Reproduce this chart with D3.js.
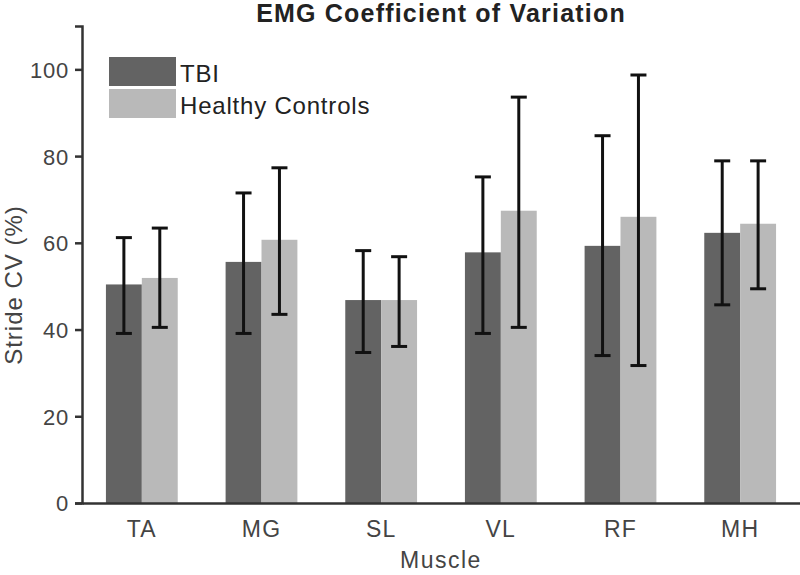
<!DOCTYPE html>
<html><head><meta charset="utf-8">
<script src="https://cdn.jsdelivr.net/npm/d3@7"></script>
<style>body{margin:0;background:#fff}svg{display:block}text{font-family:"Liberation Sans",Arial,sans-serif}</style>
</head><body><svg id="c" width="800" height="575"></svg>
<script>
const muscles = ["TA","MG","SL","VL","RF","MH"];
const seriesNames = ["TBI","Healthy Controls"];
const tbiMean = [50.4,55.6,46.8,57.8,59.3,62.3];
const tbiLow  = [39.1,39.1,34.7,39.1,34.0,45.7];
const tbiHigh = [61.2,71.5,58.2,75.2,84.7,78.9];
const hcMean  = [51.9,60.7,46.8,67.4,66.0,64.4];
const hcLow   = [40.5,43.5,36.1,40.5,31.7,49.4];
const hcHigh  = [63.4,77.3,56.8,93.6,98.7,78.9];
const yTicks = [0,20,40,60,80,100];
const colors = ["#636363","#b9b9b9"];

const svg = d3.select("#c");
const m = {l:82, r:800, t:26, b:503};
const x = d3.scaleBand().domain(muscles).range([m.l, m.r]).paddingInner(0.4).paddingOuter(0.2);
const xs = d3.scaleBand().domain(seriesNames).range([0, x.bandwidth()]);
const y = d3.scaleLinear().domain([0,110]).range([m.b, m.t]);

const series = [
  {name:seriesNames[0], mean:tbiMean, low:tbiLow, high:tbiHigh, color:colors[0]},
  {name:seriesNames[1], mean:hcMean, low:hcLow, high:hcHigh, color:colors[1]}
];

series.forEach(s=>{
  svg.append("g").selectAll("rect").data(muscles).join("rect")
    .attr("x", d=>x(d)+xs(s.name))
    .attr("width", xs.bandwidth())
    .attr("y", (d,i)=>y(s.mean[i]))
    .attr("height", (d,i)=>y(0)-y(s.mean[i]))
    .attr("fill", s.color);
});
series.forEach(s=>{
  const g = svg.append("g").attr("stroke","#111").attr("stroke-width",3);
  muscles.forEach((d,i)=>{
    const cx = x(d)+xs(s.name)+xs.bandwidth()/2;
    g.append("line").attr("x1",cx).attr("x2",cx).attr("y1",y(s.low[i])).attr("y2",y(s.high[i]));
    g.append("line").attr("x1",cx-8).attr("x2",cx+8).attr("y1",y(s.low[i])).attr("y2",y(s.low[i]));
    g.append("line").attr("x1",cx-8).attr("x2",cx+8).attr("y1",y(s.high[i])).attr("y2",y(s.high[i]));
  });
});

// axes
const ya = svg.append("g").attr("transform",`translate(${m.l},0)`)
  .call(d3.axisLeft(y).tickValues(yTicks).tickSize(7).tickPadding(6));
ya.select(".domain").attr("stroke","#333").attr("stroke-width",2.5);
ya.selectAll(".tick line").attr("stroke","#333").attr("stroke-width",2.5);
ya.selectAll(".tick text").attr("fill","#444").attr("font-size",22).attr("letter-spacing","0.8px").attr("dy","0.36em");

const xa = svg.append("g").attr("transform",`translate(0,${m.b})`)
  .call(d3.axisBottom(x).tickSize(0).tickPadding(0));
xa.select(".domain").attr("stroke","#333").attr("stroke-width",2.5);
xa.selectAll(".tick text").attr("fill","#444").attr("font-size",23).attr("letter-spacing","1.2px")
  .attr("dy",null).attr("y",34);

svg.append("text").attr("x",441).attr("y",22).attr("text-anchor","middle")
  .attr("font-size",25).attr("font-weight","bold").attr("letter-spacing","1.2px").attr("fill","#222").text("EMG Coefficient of Variation");
svg.append("text").attr("x",441).attr("y",568).attr("text-anchor","middle")
  .attr("font-size",23).attr("letter-spacing","1.5px").attr("fill","#444").text("Muscle");
svg.append("text").attr("transform","translate(22,285) rotate(-90)").attr("text-anchor","middle")
  .attr("font-size",24).attr("letter-spacing","1px").attr("fill","#444").text("Stride CV (%)");

// legend
const lg = svg.append("g");
series.forEach((s,i)=>{
  lg.append("rect").attr("x",109).attr("y",57+i*32).attr("width",67).attr("height",29).attr("fill",s.color);
  lg.append("text").attr("x",180).attr("y",82+i*32).attr("font-size",24).attr("letter-spacing","0.8px").attr("fill","#222").text(s.name);
});
</script></body></html>
